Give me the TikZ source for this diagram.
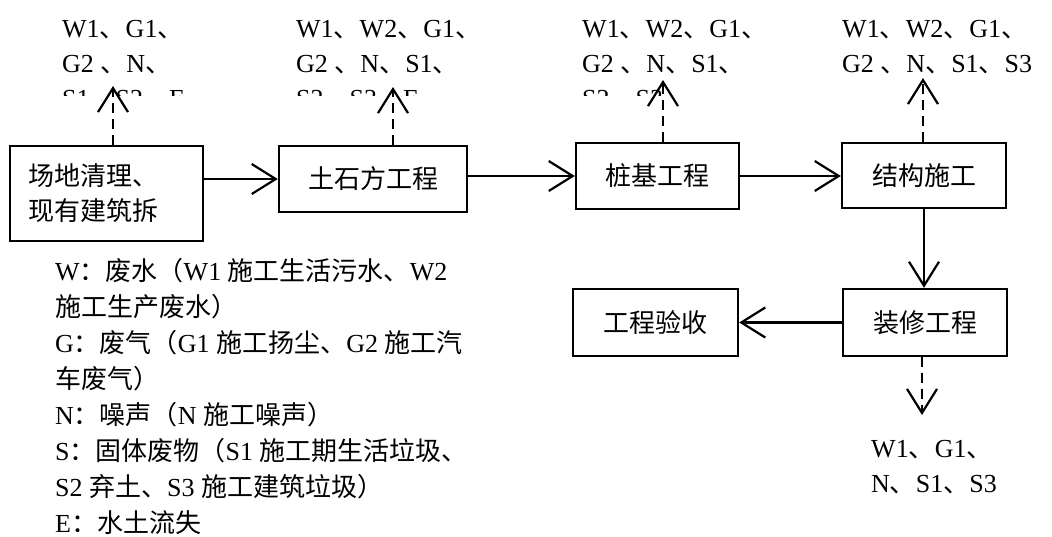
\documentclass[tikz,border=0pt]{standalone}
\usepackage{fontspec}
\setmainfont{Liberation Serif}
\newfontfamily\cjk{Noto Sans CJK SC}
\newcommand\zh[1]{{\cjk #1}}
\newcommand\bodysize{\fontsize{26}{35}\selectfont}
\usetikzlibrary{arrows.meta}
\tikzset{
  stage/.style={draw, line width=2.4pt, minimum height=66pt, font=\bodysize\cjk},
  flow/.style={line width=2.2pt, -{Straight Barb[length=24pt,width=30pt]}},
  emit/.style={flow, dash pattern=on 10pt off 6pt},
  note/.style={align=left, inner sep=0pt, anchor=base west, font=\bodysize},
}
\begin{document}
\begin{tikzpicture}[x=1pt, y=-1pt]
  \useasboundingbox (0,0) rectangle (1052,536);

  % process stages
  \node[stage, minimum width=193pt, minimum height=95pt, text width=157pt,
        inner xsep=18pt, align=left] (clear) at (106.5,193.5) {场地清理、\\现有建筑拆};
  \node[stage, minimum width=188pt] (earth) at (373,179) {土石方工程};
  \node[stage, minimum width=163pt] (pile) at (657.5,176) {桩基工程};
  \node[stage, minimum width=164pt, minimum height=65pt] (frame) at (924,175.5) {结构施工};
  \node[stage, minimum width=164pt, minimum height=67pt] (finish) at (925,322.5) {装修工程};
  \node[stage, minimum width=165pt, minimum height=67pt] (accept) at (655.5,322.5) {工程验收};

  % main flow
  \draw[flow] (clear.east |- earth.west) -- (earth.west);
  \draw[flow] (earth.east |- pile.west) -- (pile.west);
  \draw[flow] (pile.east) -- (frame.west |- pile.east);
  \draw[flow] (frame.south) -- (frame.south |- finish.north);
  \draw[flow] (finish.west) -- (accept.east);

  % emissions
  \coordinate (t1) at (113,86);
  \coordinate (t2) at (393,87);
  \coordinate (t3) at (663,80);
  \coordinate (t4) at (923,78);
  \coordinate (t5) at (922,415);
  \draw[emit] (t1 |- clear.north) -- (t1);
  \draw[emit] (t2 |- earth.north) -- (t2);
  \draw[emit] (t3 |- pile.north) -- (t3);
  \draw[emit] (t4 |- frame.north) -- (t4);
  \draw[emit] (t5 |- finish.south) -- (t5);

  \begin{scope}
    \clip (0,0) rectangle (1052,95);
    \node[note] (e1) at (62,107) {W1\zh{、}G1\zh{、}\\G2 \zh{、}N\zh{、}\\S1\zh{、}S2\zh{、}E};
    \node[note] (e2) at (296,107) {W1\zh{、}W2\zh{、}G1\zh{、}\\G2 \zh{、}N\zh{、}S1\zh{、}\\S2\zh{、}S3\zh{、}E};
    \node[note] (e3) at (582,107) {W1\zh{、}W2\zh{、}G1\zh{、}\\G2 \zh{、}N\zh{、}S1\zh{、}\\S2\zh{、}S3};
    \node[note] (e4) at (842,72) {W1\zh{、}W2\zh{、}G1\zh{、}\\G2 \zh{、}N\zh{、}S1\zh{、}S3};
  \end{scope}
  \node[note] (e5) at (871,492) {W1\zh{、}G1\zh{、}\\N\zh{、}S1\zh{、}S3};

  % legend
  \node[note, font=\fontsize{26}{36}\selectfont] (key) at (55,532) {%
    W\zh{：废水（}W1 \zh{施工生活污水、}W2\\
    \zh{施工生产废水）}\\
    G\zh{：废气（}G1 \zh{施工扬尘、}G2 \zh{施工汽}\\
    \zh{车废气）}\\
    N\zh{：噪声（}N \zh{施工噪声）}\\
    S\zh{：固体废物（}S1 \zh{施工期生活垃圾、}\\
    S2 \zh{弃土、}S3 \zh{施工建筑垃圾）}\\
    E\zh{：水土流失}};
\end{tikzpicture}
\end{document}
